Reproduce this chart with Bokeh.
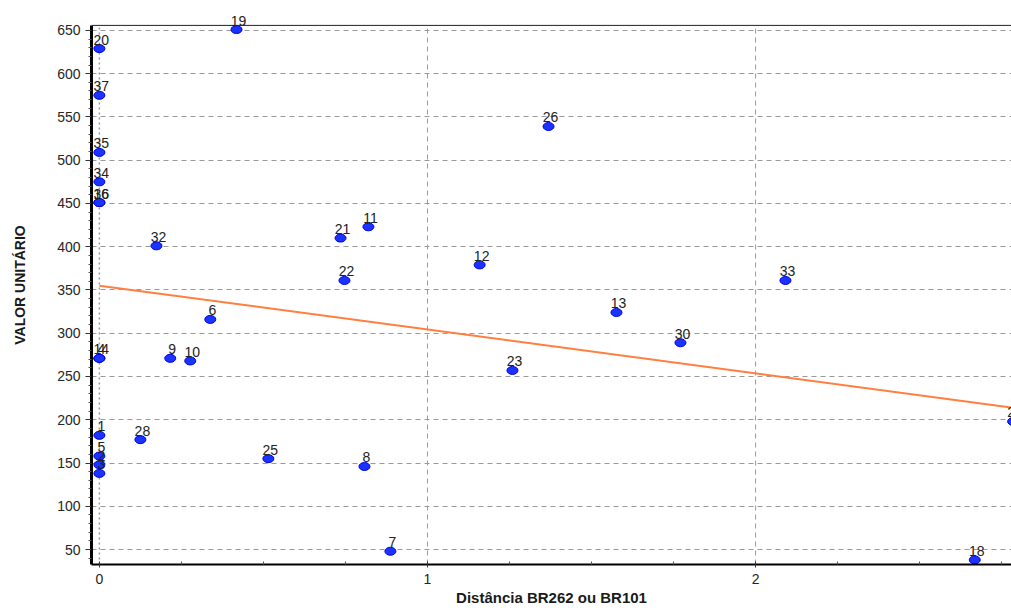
from bokeh.plotting import figure
from bokeh.models import Range1d, ColumnDataSource, FixedTicker, Span, LabelSet
from bokeh.core.properties import value
from bokeh.embed import file_html
from bokeh.resources import INLINE

# ---- data ----
labels = ["20", "37", "35", "34", "16", "36", "19", "32", "21", "11", "22", "12",
          "26", "33", "13", "30", "6", "14", "4", "9", "10", "23", "28", "25",
          "8", "7", "18", "24", "1", "5", "2", "3"]
dist = [0.0, 0.0, 0.0, 0.0, 0.0, 0.0, 0.418, 0.174, 0.735, 0.82, 0.747, 1.159,
        1.369, 2.091, 1.576, 1.771, 0.338, 0.0, 0.0, 0.216, 0.277, 1.259, 0.125, 0.515,
        0.808, 0.887, 2.668, 2.785, 0.0, 0.0, 0.0, 0.0]
valor = [629, 575, 509, 475, 451, 451, 651, 401, 410, 423, 361, 379,
         539, 361, 324, 289, 316, 271, 271, 271, 268, 257, 177, 155,
         146, 48, 38, 198, 182, 158, 148, 138]

trend_x = [0.0, 2.8]
trend_y = [355.0, 213.0]

x_ticks = [0, 1, 2]
y_ticks = [50, 100, 150, 200, 250, 300, 350, 400, 450, 500, 550, 600, 650]

Y_MIN, Y_TOP = 32.7, 655.8   # visible plot box
FONT = "Liberation Sans"

p = figure(width=1011, height=608, output_backend="svg", toolbar_location=None,
           x_range=Range1d(-0.024, 2.78), y_range=Range1d(Y_MIN, 678.8),
           min_border_left=91, min_border_top=5, min_border_right=0, min_border_bottom=42)
p.background_fill_color = "white"
p.border_fill_color = "white"
p.outline_line_color = None

# grids: horizontal through the grid object, vertical as bounded segments
p.xgrid.visible = False
p.ygrid.ticker = FixedTicker(ticks=y_ticks)
p.ygrid.grid_line_color = "#9a9a9a"
p.ygrid.grid_line_dash = "5 4"
p.ygrid.grid_line_width = 1
vx = [t for t in x_ticks if t != 0]
p.segment(x0=vx, y0=[Y_MIN] * len(vx), x1=vx, y1=[Y_TOP] * len(vx),
          line_color="#9a9a9a", line_dash="5 4", line_width=1)
p.segment(x0=[0], y0=[Y_MIN], x1=[0], y1=[Y_TOP],
          line_color="#9a9a9a", line_dash="2 3", line_width=1.5)
# top border of the plot box
p.add_layout(Span(location=Y_TOP, dimension="width", line_color="#222222", line_width=1))

# axes
p.xaxis.ticker = FixedTicker(ticks=x_ticks, minor_ticks=[0.25, 0.5, 0.75, 1.25, 1.5, 1.75, 2.25, 2.5, 2.75])
minor_y = [y + d for y in [0] + y_ticks for d in (10, 20, 30, 40) if Y_MIN < y + d < Y_TOP]
p.yaxis.ticker = FixedTicker(ticks=y_ticks, minor_ticks=minor_y)
p.yaxis.bounds = (Y_MIN, Y_TOP)

for ax in (p.xaxis[0], p.yaxis[0]):
    ax.axis_line_color = "black"
    ax.major_tick_line_color = "#333333"
    ax.minor_tick_line_color = "#555555"
    ax.major_label_text_font = FONT
    ax.major_label_text_font_size = "14px"
    ax.major_label_text_color = "#262626"
    ax.axis_label_text_font = FONT
    ax.axis_label_text_font_style = "bold"
    ax.axis_label_text_color = "#1a1a1a"

p.yaxis.axis_line_width = 3
p.yaxis.major_tick_in = 0
p.yaxis.major_tick_out = 6
p.yaxis.minor_tick_in = 0
p.yaxis.minor_tick_out = 3
p.yaxis.major_label_standoff = 5
p.yaxis.axis_label = "VALOR UNITÁRIO"
p.yaxis.axis_label_text_font_size = "14px"
p.yaxis.axis_label_standoff = 26

p.xaxis.axis_line_width = 2
p.xaxis.major_tick_in = 3
p.xaxis.major_tick_out = 3
p.xaxis.minor_tick_in = 3
p.xaxis.minor_tick_out = 0
p.xaxis.major_label_standoff = 6
p.xaxis.axis_label = "Distância BR262 ou BR101"
p.xaxis.axis_label_text_font_size = "15px"
p.xaxis.axis_label_standoff = 2

# trend line
p.line(trend_x, trend_y, line_color="#ff7f3f", line_width=2)

# points
src = ColumnDataSource(dict(x=dist, y=valor, lab=labels))
p.ellipse(x="x", y="y", width=11, height=8, width_units="screen", height_units="screen",
          source=src, fill_color="#1a33ff", line_color="#0000dd", line_width=1)
p.add_layout(LabelSet(x="x", y="y", text="lab", source=src, text_font=value(FONT),
                      text_font_size="14px", text_color="#222222", text_align="center",
                      text_baseline="bottom", x_offset=2, y_offset=4))

open("out.html", "w").write(file_html(p, INLINE))
